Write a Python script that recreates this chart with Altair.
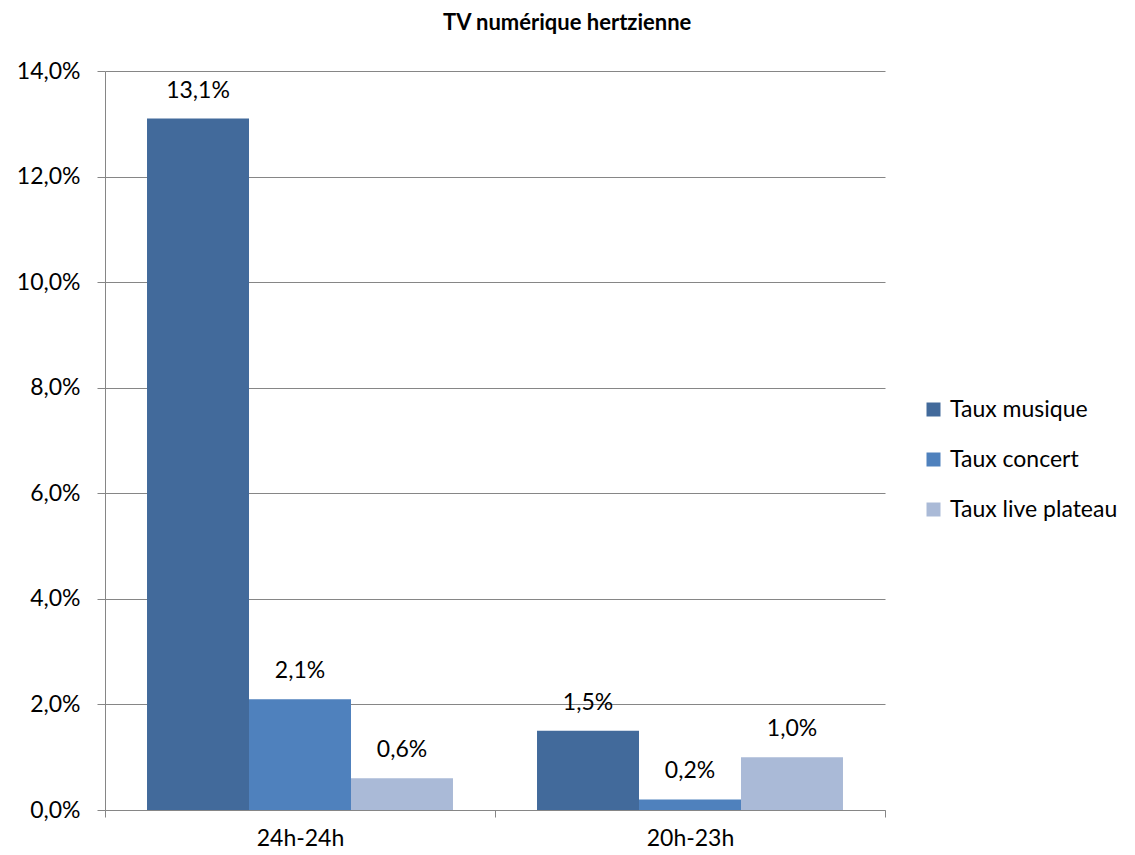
import altair as alt
import pandas as pd

categories = ["24h-24h", "20h-23h"]
series = ["Taux musique", "Taux concert", "Taux live plateau"]
taux_musique = [13.1, 1.5]
taux_concert = [2.1, 0.2]
taux_live = [0.6, 1.0]
colors = ["#426A9B", "#4F81BD", "#AABAD7"]

rows = []
for i, c in enumerate(categories):
    for s, vals in zip(series, [taux_musique, taux_concert, taux_live]):
        v = vals[i]
        rows.append({"cat": c, "serie": s, "val": v, "lab": f"{v:.1f}".replace(".", ",") + "%"})
df = pd.DataFrame(rows)

FONT = "Lato"
FS = 23
GRID = "#868686"

x = alt.X("cat:N", sort=categories, title=None,
          scale=alt.Scale(paddingInner=0, paddingOuter=0),
          axis=alt.Axis(labelAngle=0, tickBand="extent", domainColor=GRID, tickColor=GRID,
                        tickSize=7, labelPadding=10, labelFontSize=FS, labelFont=FONT,
                        labelColor="#000000"))
xo = alt.XOffset("serie:N", sort=series, scale=alt.Scale(paddingInner=0, paddingOuter=0.412))
y = alt.Y("val:Q", title=None,
          scale=alt.Scale(domain=[0, 14], nice=False),
          axis=alt.Axis(values=[0, 2, 4, 6, 8, 10, 12, 14],
                        labelExpr="replace(format(datum.value, '.1f'), '.', ',') + '%'",
                        grid=True, gridColor=GRID, domainColor=GRID, tickColor=GRID,
                        tickSize=8, labelPadding=17, labelFontSize=FS, labelFont=FONT,
                        labelColor="#000000"))

bars = alt.Chart(df).mark_bar().encode(
    x=x, xOffset=xo, y=y,
    color=alt.Color("serie:N", sort=series, title=None,
                    scale=alt.Scale(domain=series, range=colors),
                    legend=alt.Legend(orient="none", legendX=817, legendY=327,
                                      symbolType="square", symbolSize=196,
                                      symbolStrokeWidth=0, labelFontSize=FS,
                                      labelFont=FONT, labelColor="#000000",
                                      labelLimit=400,
                                      rowPadding=26, labelOffset=5)),
)

text = alt.Chart(df).mark_text(baseline="middle", dy=-28, fontSize=FS, font=FONT,
                               color="#000000").encode(
    x=alt.X("cat:N", sort=categories), xOffset=alt.XOffset("serie:N", sort=series),
    y="val:Q", text="lab:N")

chart = (bars + text).properties(
    width=780, height=739,
    title=alt.TitleParams("TV numérique hertzienne", font=FONT, fontSize=22,
                          fontWeight="bold", anchor="middle", frame="bounds",
                          offset=25, color="#000000"),
    padding={"left": 97, "top": 63, "right": 240, "bottom": 42},
    autosize=alt.AutoSizeParams(type="none"),
).configure_view(stroke=None).configure_axis(domainWidth=1, gridWidth=1)

chart.save("out.html", embed_options={"renderer": "svg", "actions": False})
